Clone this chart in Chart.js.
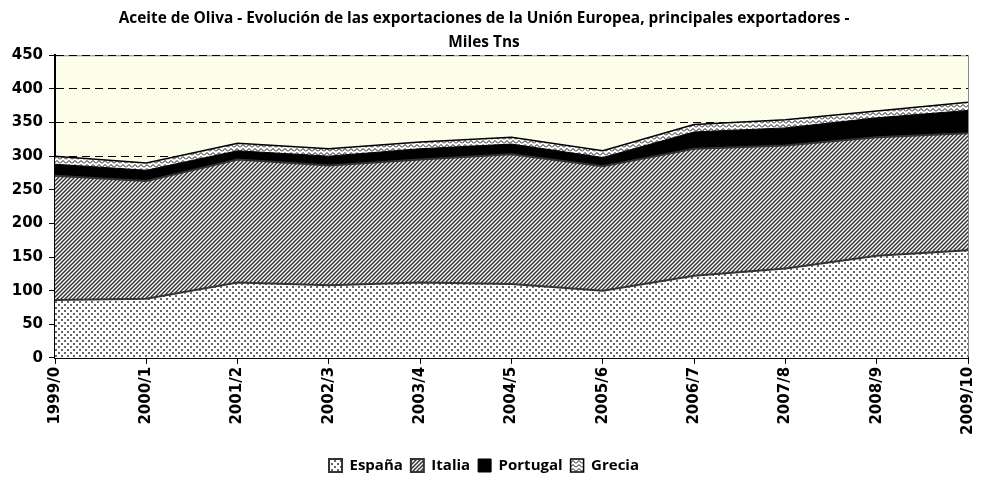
<!DOCTYPE html>
<html>
<head>
<meta charset="utf-8">
<script src="https://cdn.jsdelivr.net/npm/chart.js@4"></script>
<style>
  html, body { margin: 0; padding: 0; background: #fff; }
  #wrap { width: 981px; height: 487px; }
</style>
</head>
<body>
<div id="wrap"><canvas id="chart" width="981" height="487"></canvas></div>
<script>
// ----- data -----
const seasons = ['1999/0', '2000/1', '2001/2', '2002/3', '2003/4', '2004/5', '2005/6', '2006/7', '2007/8', '2008/9', '2009/10'];
const espana   = [86, 88, 112, 108, 112, 110, 100, 122, 133, 152, 160];
const italia   = [185, 175, 183, 178, 183, 193, 185, 189, 183, 176, 174];
const portugal = [17, 16, 13, 14, 16, 15, 13, 25, 26, 29, 34];
const grecia   = [12, 11, 11, 11, 10, 10, 10, 11, 12, 10, 12];
const yMin = 0, yMax = 450, yStep = 50;

// ----- patterns -----
function makePattern(w, h, draw) {
    const c = document.createElement('canvas');
    c.width = w;
    c.height = h;
    const g = c.getContext('2d');
    draw(g);
    return c.getContext('2d').createPattern(c, 'repeat');
}

const dots = makePattern(6, 6, g => {
    g.fillStyle = '#fff';
    g.fillRect(0, 0, 6, 6);
    g.fillStyle = '#666';
    g.fillRect(1, 1, 2, 2);
    g.fillRect(4, 4, 2, 2);
});

const hatch = makePattern(4, 4, g => {
    g.fillStyle = '#fff';
    g.fillRect(0, 0, 4, 4);
    g.strokeStyle = '#333';
    g.lineWidth = 1.5;
    g.beginPath();
    g.moveTo(-1, 5); g.lineTo(5, -1);
    g.moveTo(-1, 1); g.lineTo(1, -1);
    g.moveTo(3, 5); g.lineTo(5, 3);
    g.stroke();
});

const zigzag = makePattern(6, 4, g => {
    g.fillStyle = '#fff';
    g.fillRect(0, 0, 6, 4);
    g.strokeStyle = '#111';
    g.lineWidth = 1;
    g.beginPath();
    g.moveTo(0, 3.5); g.lineTo(3, 0.5); g.lineTo(6, 3.5);
    g.stroke();
});

const paper = makePattern(4, 4, g => {
    g.fillStyle = '#ffffee';
    g.fillRect(0, 0, 4, 4);
    g.fillStyle = '#f4f4d4';
    g.fillRect(0, 0, 1, 1);
    g.fillRect(2, 2, 1, 1);
});

// plot area background + frame
const plotBack = {
    id: 'plotBack',
    beforeDraw(chart) {
        const a = chart.chartArea;
        const ctx = chart.ctx;
        ctx.save();
        ctx.fillStyle = paper;
        ctx.fillRect(a.left, a.top, a.right - a.left, a.bottom - a.top);
        ctx.strokeStyle = '#888';
        ctx.lineWidth = 1;
        ctx.strokeRect(a.left + 0.5, a.top + 0.5, a.right - a.left, a.bottom - a.top);
        ctx.restore();
    }
};

const ctx = document.getElementById('chart').getContext('2d');

new Chart(ctx, {
    type: 'line',
    data: {
        labels: seasons,
        datasets: [
            { label: 'España',   data: espana,   backgroundColor: dots,   borderColor: '#333', borderWidth: 2,   fill: 'origin' },
            { label: 'Italia',   data: italia,   backgroundColor: hatch,  borderColor: '#333', borderWidth: 2,   fill: '-1' },
            { label: 'Portugal', data: portugal, backgroundColor: '#000', borderColor: '#000', borderWidth: 1,   fill: '-1' },
            { label: 'Grecia',   data: grecia,   backgroundColor: zigzag, borderColor: '#000', borderWidth: 1.5, fill: '-1' }
        ]
    },
    options: {
        responsive: false,
        animation: false,
        layout: {
            padding: { left: 0, right: 13, top: 0, bottom: 4 }
        },
        elements: {
            point: { radius: 0 },
            line: { tension: 0 }
        },
        scales: {
            x: {
                afterFit: s => {
                    s.height += 12;
                    s.paddingRight = 0;
                },
                grid: {
                    drawOnChartArea: false,
                    color: '#000',
                    tickLength: 6
                },
                border: { color: '#000', width: 2 },
                ticks: {
                    color: '#000',
                    minRotation: 90,
                    maxRotation: 90,
                    padding: 3,
                    font: { family: 'DejaVu Sans', weight: 'bold', size: 15 }
                }
            },
            y: {
                stacked: true,
                min: yMin,
                max: yMax,
                afterFit: s => { s.width = 55; },
                grid: {
                    color: '#000',
                    tickBorderDash: [],
                    tickLength: 6,
                    tickColor: '#000'
                },
                border: { color: '#000', width: 2, dash: [8, 5] },
                ticks: {
                    stepSize: yStep,
                    color: '#000',
                    padding: 6,
                    font: { family: 'DejaVu Sans', weight: 'bold', size: 15 }
                }
            }
        },
        plugins: {
            title: {
                display: true,
                text: ['Aceite de Oliva - Evolución de las exportaciones de la Unión Europea, principales exportadores -', 'Miles Tns'],
                color: '#000',
                font: { family: 'Open Sans', weight: 'bold', size: 15.4, lineHeight: 1.6 },
                padding: { top: 6, bottom: 0 }
            },
            legend: {
                position: 'bottom',
                labels: {
                    color: '#000',
                    boxWidth: 13,
                    boxHeight: 13,
                    padding: 8,
                    font: { family: 'Open Sans', weight: 'bold', size: 15 }
                }
            },
            tooltip: { enabled: false }
        }
    },
    plugins: [plotBack]
});
</script>
</body>
</html>
